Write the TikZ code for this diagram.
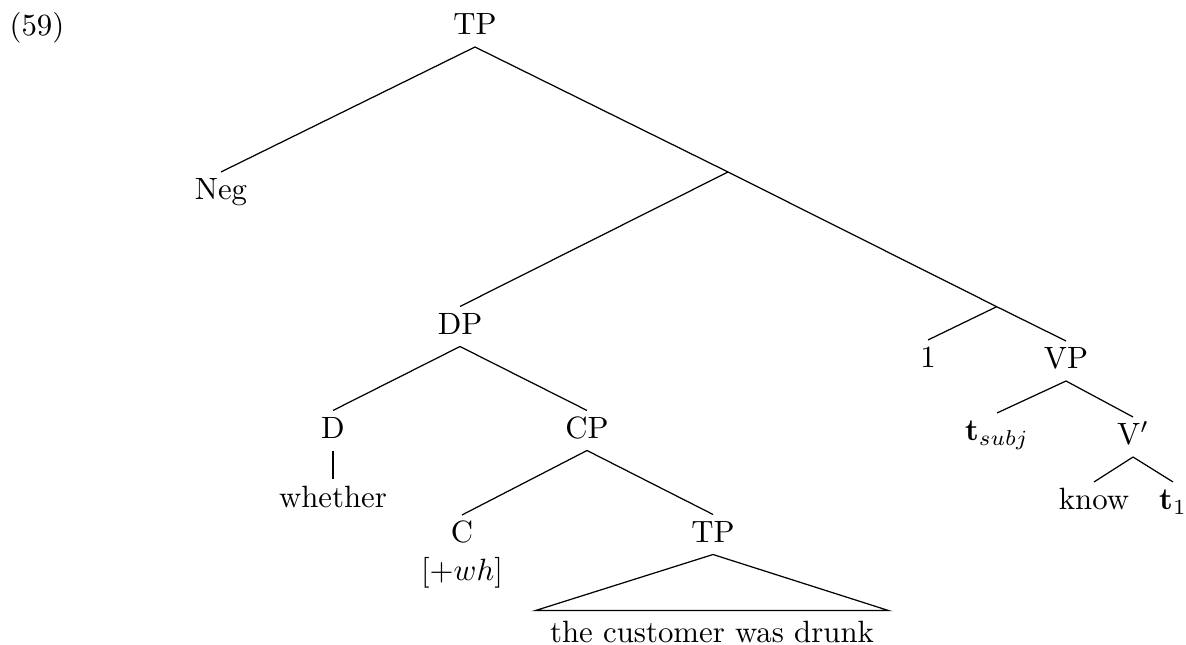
\documentclass[tikz,border=0pt]{standalone}
\begin{document}
\begin{tikzpicture}[x=0.3247pt,y=-0.3247pt,
  lab/.style={inner sep=2.3pt, outer sep=0pt, text height=6.8pt, text depth=1.6pt, anchor=base},
  rooftext/.style={inner xsep=4.8pt, inner ysep=0pt, outer sep=0pt, text height=10.2pt, text depth=0pt, anchor=base},
  branch/.style={line width=0.4pt}]
\useasboundingbox (0,0) rectangle (1186,645);
% example number
\node[anchor=base west, inner sep=0pt] (num) at (9,36) {(59)};
% nodes
\node[lab] (tp) at (475,35) {TP};
\node[lab] (neg) at (221,200) {Neg};
\coordinate (n1) at (728,172);
\coordinate (n2) at (996.7,306.7);
\node[lab] (dp) at (460,334.5) {DP};
\node[lab] (one) at (928,368) {1};
\node[lab] (vp) at (1066,369) {VP};
\node[lab] (tsubj) at (997,441) {$\mathbf{t}_{subj}$};
\node[lab] (vbar) at (1133,445) {V$'$};
\node[lab] (know) at (1094,510) {know};
\node[lab] (tone) at (1173,510) {$\mathbf{t}_1$};
\node[lab] (d) at (333,438.5) {D};
\node[lab] (whether) at (333,507.5) {whether};
\node[lab] (cp) at (587,438.5) {CP};
\node[lab] (c) at (462,543) {C};
\node[lab] (wh) at (462,580) {[+$wh$]};
\node[lab] (tpb) at (713,542.5) {TP};
\node[rooftext] (roof) at (712,642) {the customer was drunk};
% branches
\draw[branch] (tp.south) -- (neg.north);
\draw[branch] (tp.south) -- (n1);
\draw[branch] (n1) -- (n2);
\draw[branch] (n1) -- (dp.north);
\draw[branch] (n2) -- (one.north);
\draw[branch] (n2) -- (vp.north);
\draw[branch] (vp.south) -- (tsubj.north);
\draw[branch] (vp.south) -- (vbar.north);
\draw[branch] (vbar.south) -- (know.north);
\draw[branch] (vbar.south) -- (tone.north);
\draw[branch] (dp.south) -- (d.north);
\draw[branch] (dp.south) -- (cp.north);
\draw[branch] (d.south) -- (whether.north);
\draw[branch] (cp.south) -- (c.north);
\draw[branch] (cp.south) -- (tpb.north);
\draw[branch] (tpb.south) -- (roof.north west) -- (roof.north east) -- cycle;
\end{tikzpicture}
\end{document}
